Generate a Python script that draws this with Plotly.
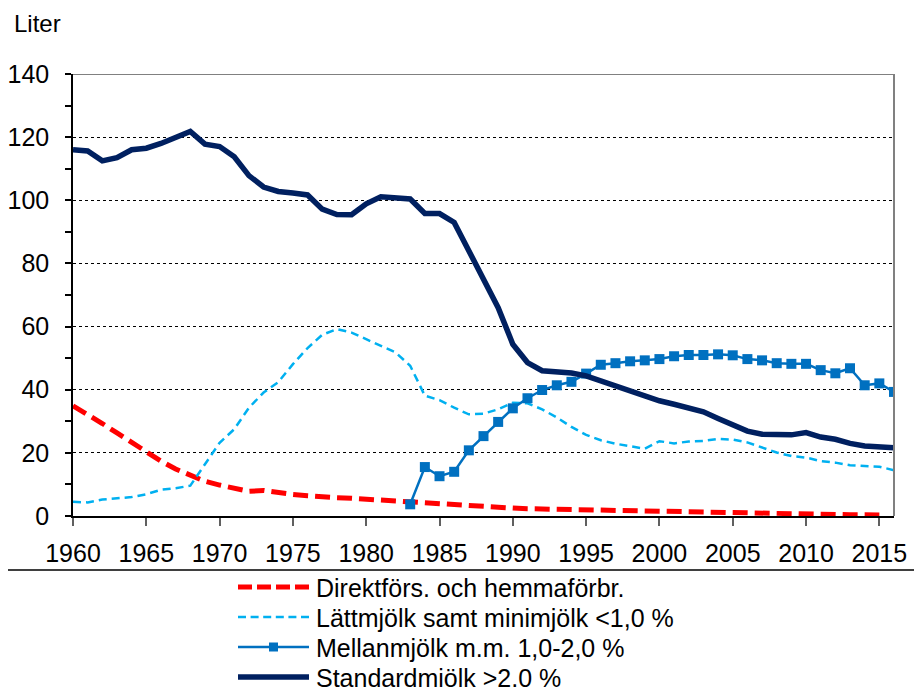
import plotly.graph_objects as go

# År
years = list(range(1960, 2017))
years_direkt = list(range(1960, 2016))
years_mellan = list(range(1983, 2017))

# Liter per person och år
direkt = [34.9, 32.2, 29.3, 26.3, 23.2, 20.1, 17.4, 14.9, 12.8, 11.0,
          9.8, 8.8, 7.8, 8.1, 7.4, 6.8, 6.4, 6.0, 5.8, 5.6,
          5.3, 5.0, 4.6, 4.3, 4.0, 3.7, 3.4, 3.1, 2.9, 2.7,
          2.5, 2.3, 2.2, 2.1, 2.0, 1.9, 1.8, 1.6, 1.5, 1.4,
          1.3, 1.2, 1.1, 1.0, 0.9, 0.9, 0.8, 0.7, 0.7, 0.6,
          0.6, 0.5, 0.5, 0.4, 0.4, 0.3]

latt = [4.5, 4.3, 5.2, 5.7, 6.0, 6.9, 8.3, 8.8, 9.6, 16.4,
        23.2, 27.5, 34.3, 39.1, 42.4, 48.1, 53.2, 57.4, 59.2, 58.1,
        56.0, 53.9, 51.8, 47.6, 38.1, 36.7, 34.3, 32.2, 32.4, 33.8,
        35.9, 35.7, 33.8, 31.2, 28.2, 25.7, 24.0, 22.9, 22.1, 21.3,
        23.7, 23.0, 23.6, 23.8, 24.4, 24.2, 23.3, 21.7, 20.1, 19.0,
        18.5, 17.4, 16.9, 16.1, 15.8, 15.6, 14.5]

mellan = [3.7, 15.5, 12.6, 14.0, 20.8, 25.3, 29.8,
          34.1, 37.3, 39.9, 41.4, 42.5, 45.1, 47.9, 48.4, 49.0, 49.3,
          49.7, 50.6, 51.0, 51.0, 51.2, 50.9, 49.7, 49.3, 48.4, 48.2,
          48.2, 46.2, 45.2, 46.8, 41.4, 42.0, 39.3]

standard = [116.0, 115.6, 112.5, 113.5, 116.0, 116.5, 118.0, 120.0, 121.8, 117.8,
            117.0, 113.8, 107.8, 104.2, 102.8, 102.3, 101.7, 97.2, 95.5, 95.4,
            98.9, 101.1, 100.8, 100.4, 95.8, 95.8, 93.0, 84.0, 75.5, 66.0,
            54.4, 48.6, 46.0, 45.6, 45.3, 44.4, 42.8, 41.0, 39.6, 37.8,
            36.5, 35.4, 34.1, 33.0, 30.9, 28.8, 26.9, 25.9, 25.7, 25.7,
            26.4, 25.0, 24.3, 23.0, 22.2, 21.7, 21.6]

x_ticks = list(range(1960, 2016, 5))
y_ticks = list(range(0, 141, 20))

font = "Liberation Sans, Arial, sans-serif"

# seriernas namn och stil (används både i diagram och legend)
names = ["Direktförs. och hemmaförbr.",
         "Lättmjölk samt minimjölk <1,0 %",
         "Mellanmjölk m.m. 1,0-2,0 %",
         "Standardmjölk >2,0 %"]
colors = ["#FF0000", "#00B0F0", "#0070C0", "#002060"]
widths = [5, 2.5, 2.5, 5.5]

fig = go.Figure()

fig.add_trace(go.Scatter(
    x=years_direkt, y=direkt, mode="lines", name=names[0],
    line=dict(color=colors[0], width=widths[0], dash="15px,7px"),
))
fig.add_trace(go.Scatter(
    x=years, y=latt, mode="lines", name=names[1],
    line=dict(color=colors[1], width=widths[1], dash="8px,5px"),
))
fig.add_trace(go.Scatter(
    x=years_mellan, y=mellan, mode="lines+markers", name=names[2],
    line=dict(color=colors[2], width=widths[2]),
    marker=dict(symbol="square", size=10, color=colors[2]),
))
fig.add_trace(go.Scatter(
    x=years, y=standard, mode="lines", name=names[3],
    line=dict(color=colors[3], width=widths[3]),
))

# pixel i skärmbilden -> paper (plotyta 73..894 x 74..516)
def px(x):
    return (x - 73) / 821

def py(y):
    return (516 - y) / 442

# ram överst och till höger (grå)
fig.add_shape(type="line", xref="paper", yref="y", x0=0, x1=1, y0=140, y1=140,
              line=dict(color="#808080", width=2))
fig.add_shape(type="line", xref="paper", yref="paper", x0=1, x1=1, y0=0, y1=1,
              line=dict(color="#808080", width=2))

# legendruta, ritad för hand så att den kan gå utanför bilden som i originalet
fig.add_shape(type="rect", xref="paper", yref="paper",
              x0=px(5), x1=px(940), y0=py(720), y1=py(570),
              line=dict(color="black", width=1.5))

row_y = [587, 617, 647, 677]
dashes = ["14px,5px", "8px,4.6px", "solid", "solid"]
for i, yy in enumerate(row_y):
    fig.add_shape(type="line", xref="paper", yref="paper",
                  x0=px(238), x1=px(309), y0=py(yy), y1=py(yy),
                  line=dict(color=colors[i], width=widths[i], dash=dashes[i]))
    fig.add_annotation(text=names[i], xref="paper", yref="paper",
                       x=px(314), y=py(yy + 1), xanchor="left", yanchor="middle",
                       showarrow=False,
                       font=dict(size=25, color="black", family=font))
# markör i legenden för mellanmjölk
fig.add_shape(type="rect", xref="paper", yref="paper",
              x0=px(269), x1=px(278), y0=py(651.5), y1=py(642.5),
              fillcolor=colors[2], line=dict(width=0))

fig.add_annotation(text="Liter", xref="paper", yref="paper", x=px(12), y=py(24),
                   xanchor="left", yanchor="middle", showarrow=False,
                   font=dict(size=24, color="black", family=font))

fig.update_xaxes(
    range=[1960, 2016], tickvals=x_ticks, showgrid=False, automargin=False,
    showline=True, linecolor="black", linewidth=1.5,
    ticks="outside", ticklen=8, tickcolor="#606060", tickwidth=1.5,
    ticklabelstandoff=6,
    tickfont=dict(size=25, color="black", family=font),
    zeroline=False,
)
fig.update_yaxes(
    range=[0, 140], tickvals=y_ticks, automargin=False,
    showgrid=True, gridcolor="black", griddash="dot", gridwidth=1,
    showline=True, linecolor="black", linewidth=1.5,
    ticks="outside", ticklen=6, tickcolor="black", tickwidth=1.5,
    minor=dict(dtick=10, ticks="outside", ticklen=6, tickcolor="black", tickwidth=1.5, showgrid=False),
    ticklabelstandoff=11,
    tickfont=dict(size=25, color="black", family=font),
    zeroline=False,
)

# sidan har 8 px marginal, därför är marginalerna förskjutna
fig.update_layout(
    width=922, height=687,
    margin=dict(l=65, r=36, t=66, b=179),
    plot_bgcolor="white", paper_bgcolor="white",
    font=dict(family=font, color="black"),
    showlegend=False,
)

fig.write_html("out.html")
